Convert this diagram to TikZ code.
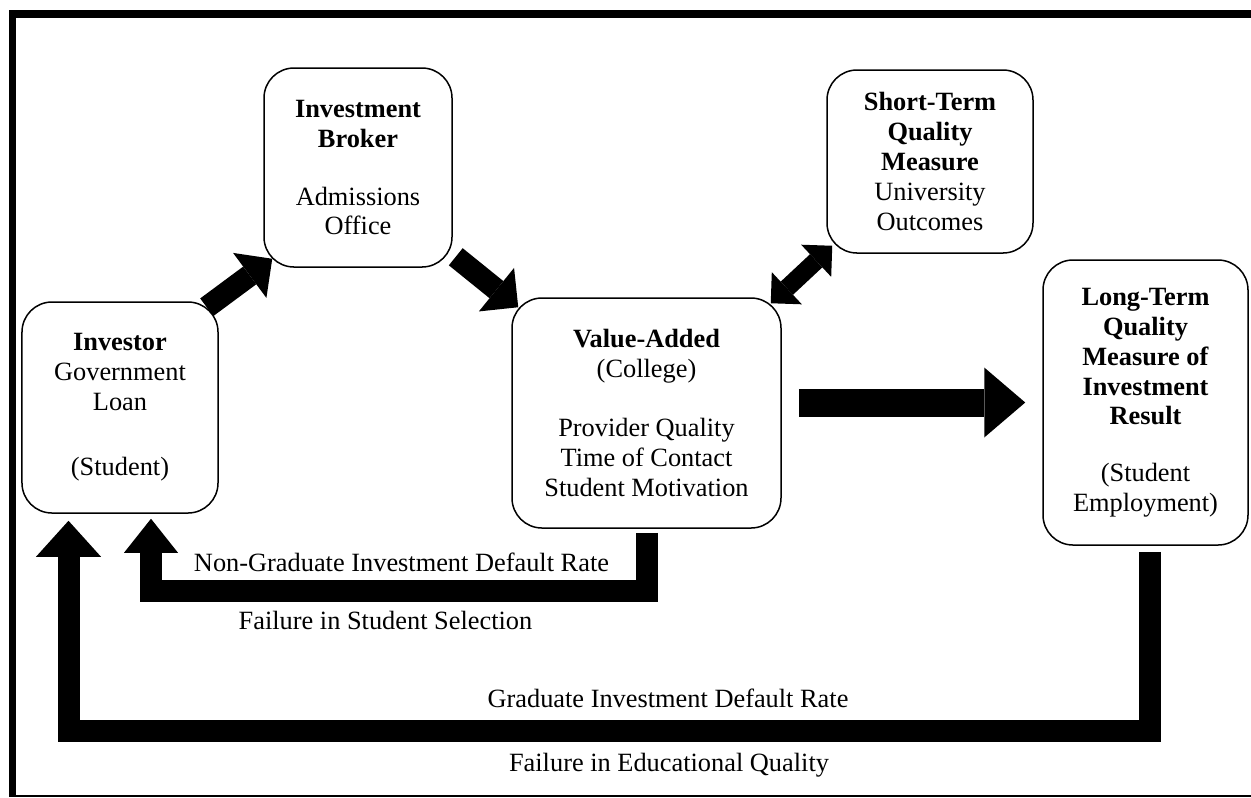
\documentclass[tikz,border=0pt]{standalone}
\usepackage{fontspec}
\setmainfont{Liberation Serif}
\usetikzlibrary{arrows.meta,calc}

\begin{document}
\begin{tikzpicture}[x=0.2mm,y=-0.2mm,
  every node/.style={font=\fontsize{15}{17}\selectfont},
  box/.style={draw,line width=0.3mm,rounded corners=6mm,fill=white,align=center,inner sep=2pt},
  fat/.style={line width=4.4mm},
  lbl/.style={anchor=base,inner sep=0pt}]
  \useasboundingbox (0,0) rectangle (1251,797);
  % frame
  \draw[line width=1.6mm] (9,14) -- (1251,14);
  \draw[line width=1.4mm] (12.5,10) -- (12.5,797);
  \draw[line width=0.3mm] (12,796) -- (1251,796);

  % boxes
  \node[box,minimum width=39.2mm,minimum height=42.2mm] (inv) at (120,407.5)
    {\textbf{Investor}\\Government\\Loan\\[20pt](Student)};
  \node[box,minimum width=37.6mm,minimum height=39.8mm] (brk) at (358,167.5)
    {\textbf{Investment}\\\textbf{Broker}\\[16pt]Admissions\\Office};
  \node[box,minimum width=53.8mm,minimum height=46mm] (val) at (646.5,413)
    {\textbf{Value-Added}\\(College)\\[17pt]Provider Quality\\Time of Contact\\Student Motivation};
  \node[box,minimum width=41.2mm,minimum height=36.6mm] (stq) at (930,161.5)
    {\textbf{Short-Term}\\\textbf{Quality}\\\textbf{Measure}\\University\\Outcomes};
  \node[box,minimum width=41mm,minimum height=57mm] (ltq) at (1145.5,402.5)
    {\textbf{Long-Term}\\\textbf{Quality}\\\textbf{Measure of}\\\textbf{Investment}\\\textbf{Result}\\[15pt](Student\\Employment)};

  % block arrows
  \draw[fat,-{Triangle[length=5.6mm,width=11.2mm,line width=0pt]}]
    ($(inv.north east)+(-12,6)$) -- ($(brk.south west)+(9,-9)$);
  \draw[fat,-{Triangle[length=5.6mm,width=11.2mm,line width=0pt]}]
    ($(brk.south east)+(3,-11)$) -- ($(val.north west)+(7,10)$);
  \draw[line width=3.6mm,{Triangle[length=4.4mm,width=8.8mm,line width=0pt]}-{Triangle[length=4.4mm,width=8.8mm,line width=0pt]}]
    ($(val.north east)+(-11,6)$) -- ($(stq.south west)+(6,-8)$);
  \draw[line width=5.6mm,-{Triangle[length=8.2mm,width=14mm,line width=0pt]}]
    ($(val.east |- ltq.west)+(17,0)$) -- ($(ltq.west)+(-17,0)$);

  % feedback loops
  \draw[fat,-{Triangle[length=6.8mm,width=10.8mm,line width=0pt]}]
    ($(val.south)+(0,4)$) -- ++(0,58.5) -| ($(inv.south)+(31,5)$);
  \draw[fat,-{Triangle[length=7.2mm,width=13mm,line width=0pt]}]
    ($(ltq.south)+(4,6)$) -- ++(0,179) -| ($(inv.south)+(-51.5,7)$);

  \node[lbl] (ngrad) at (401.5,571) {Non-Graduate Investment Default Rate};
  \node[lbl] (fsel) at (385.5,629) {Failure in Student Selection};
  \node[lbl] (grad) at (668,707) {Graduate Investment Default Rate};
  \node[lbl] (fedu) at (669,771) {Failure in Educational Quality};
\end{tikzpicture}
\end{document}
